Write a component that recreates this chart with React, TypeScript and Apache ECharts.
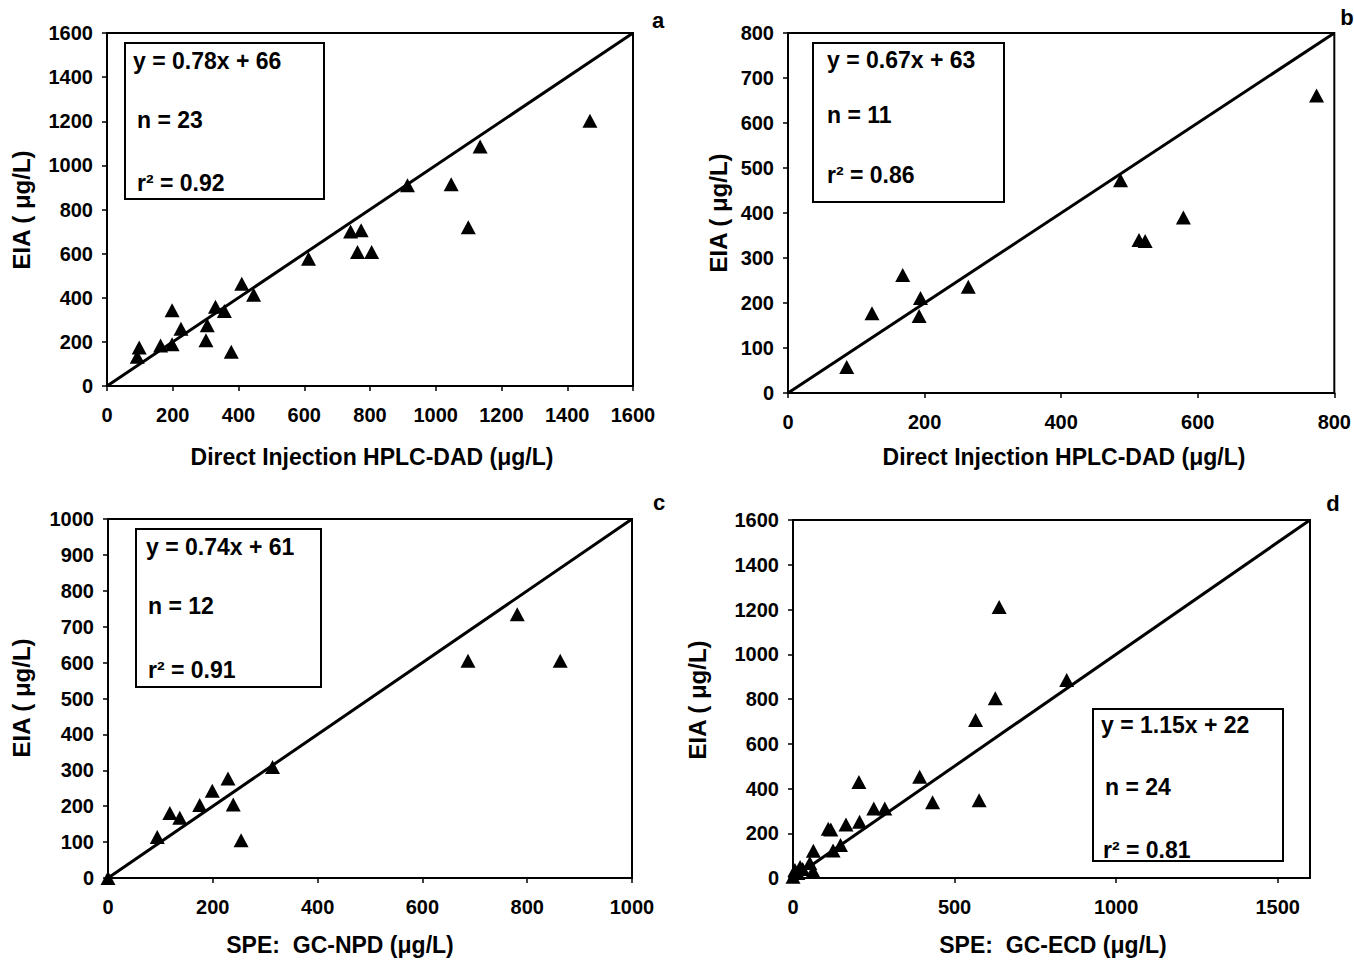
import React, { useEffect, useRef } from "react";
import * as echarts from "echarts";

// Panel a: Direct Injection HPLC-DAD vs EIA
const aX = [98, 92, 163, 198, 198, 225, 301, 305, 330, 357, 378, 410, 446, 613, 741, 773, 762, 805, 914, 1047, 1099, 1135, 1469];
const aY = [174, 133, 184, 189, 343, 260, 207, 275, 359, 340, 155, 463, 414, 577, 700, 706, 607, 607, 910, 915, 720, 1085, 1202];
// Panel b
const bX = [86, 123, 168, 194, 192, 264, 487, 514, 523, 579, 774];
const bY = [58, 177, 262, 211, 171, 236, 473, 340, 338, 390, 661];
// Panel c: SPE GC-NPD
const cX = [0, 94, 118, 137, 175, 199, 229, 239, 254, 314, 687, 781, 863];
const cY = [0, 114, 181, 168, 203, 243, 277, 205, 105, 309, 605, 735, 605];
// Panel d: SPE GC-ECD
const dX = [638, 847, 626, 565, 392, 204, 432, 576, 250, 284, 164, 206, 109, 117, 124, 147, 63, 52, 62, 22, 6, 0, 15, 30];
const dY = [1211, 885, 803, 706, 452, 429, 339, 348, 311, 311, 239, 251, 220, 217, 123, 147, 122, 67, 31, 49, 36, 6, 22, 40];

const axisMax = [1600, 800, 1000, 1600];
const xInterval = [200, 200, 200, 500];
const yInterval = [200, 100, 100, 200];
const xTitles = ["Direct Injection HPLC-DAD (\u03bcg/L)", "Direct Injection HPLC-DAD (\u03bcg/L)", "SPE:  GC-NPD (\u03bcg/L)", "SPE:  GC-ECD (\u03bcg/L)"];
const yTitle = "EIA ( \u03bcg/L)";
const panelLetters = ["a", "b", "c", "d"];
const statLines = [
  ["y = 0.78x + 66", "n = 23", "r\u00b2 = 0.92"],
  ["y = 0.67x + 63", "n = 11", "r\u00b2 = 0.86"],
  ["y = 0.74x + 61", "n = 12", "r\u00b2 = 0.91"],
  ["y = 1.15x + 22", "n = 24", "r\u00b2 = 0.81"],
];

const FONT = '"Liberation Sans", Arial, sans-serif';

export default function App() {
  const ref = useRef<HTMLDivElement>(null);
  useEffect(() => {
    document.body.style.margin = "0";
    const chart = echarts.init(ref.current!, null, { renderer: "svg" });
    const grids = [
      { left: 107, top: 33, width: 526, height: 353 },
      { left: 788, top: 33, width: 547, height: 360 },
      { left: 108, top: 519, width: 524, height: 359 },
      { left: 793, top: 520, width: 517, height: 358 },
    ];
    const xs = [aX, bX, cX, dX];
    const ys = [aY, bY, cY, dY];
    const axisCommon = {
      axisLine: { show: true, lineStyle: { color: "#000", width: 2 } },
      axisTick: { show: true, inside: false, length: 5, lineStyle: { color: "#000", width: 1.5 } },
      splitLine: { show: false },
    };
    const labelStyle = {
      color: "#000",
      fontFamily: FONT,
      fontWeight: "bold" as const,
      fontSize: 20,
      formatter: (v: number) => String(v),
    };
    const xAxes = grids.map((_, i) => ({
      type: "value",
      gridIndex: i,
      min: 0,
      max: axisMax[i],
      interval: xInterval[i],
      ...axisCommon,
      axisLabel: { ...labelStyle, margin: 19, showMaxLabel: i !== 3 },
    }));
    const yAxes = grids.map((_, i) => ({
      type: "value",
      gridIndex: i,
      min: 0,
      max: axisMax[i],
      interval: yInterval[i],
      ...axisCommon,
      axisLabel: { ...labelStyle, margin: 14 },
    }));
    const series: any[] = [];
    grids.forEach((_, i) => {
      series.push({
        type: "line",
        xAxisIndex: i,
        yAxisIndex: i,
        data: [[0, 0], [axisMax[i], axisMax[i]]],
        symbol: "none",
        lineStyle: { color: "#000", width: 3 },
        z: 2,
      });
      series.push({
        type: "scatter",
        xAxisIndex: i,
        yAxisIndex: i,
        data: xs[i].map((x, k) => [x, ys[i][k]]),
        symbol: "triangle",
        symbolSize: [15, 14],
        itemStyle: { color: "#000", opacity: 1 },
        z: 3,
      });
    });

    const boxes = [
      { x: 125, y: 43, w: 199, h: 156, tx: [133, 137, 137], ty: [61, 120, 183] },
      { x: 813, y: 43, w: 191, h: 159, tx: [827, 827, 827], ty: [60, 115, 175] },
      { x: 136, y: 529, w: 185, h: 158, tx: [146, 148, 148], ty: [547, 606, 670] },
      { x: 1093, y: 709, w: 190, h: 152, tx: [1101, 1105, 1103], ty: [725, 787, 850] },
    ];
    const xTitlePos = [[372, 457], [1064, 457], [340, 945], [1053, 945]];
    const yTitlePos = [[21, 210], [718, 213], [21, 698], [697, 700]];
    const letterPos = [[658, 20], [1347, 17], [659, 502], [1333, 503]];

    const graphic: any[] = [];
    boxes.forEach((b, i) => {
      graphic.push({
        type: "rect",
        shape: { x: b.x, y: b.y, width: b.w, height: b.h },
        style: { fill: "#fff", stroke: "#000", lineWidth: 2 },
        z: 10,
      });
      statLines[i].forEach((t, k) => {
        graphic.push({
          type: "text",
          x: b.tx[k],
          y: b.ty[k],
          style: { text: t, font: `bold 23px ${FONT}`, fill: "#000", align: "left", verticalAlign: "middle" },
          z: 11,
        });
      });
    });
    xTitlePos.forEach((p, i) => {
      graphic.push({
        type: "text",
        x: p[0],
        y: p[1],
        style: { text: xTitles[i], font: `bold 23px ${FONT}`, fill: "#000", align: "center", verticalAlign: "middle" },
      });
    });
    yTitlePos.forEach((p) => {
      graphic.push({
        type: "text",
        x: p[0],
        y: p[1],
        rotation: Math.PI / 2,
        style: { text: yTitle, font: `bold 24px ${FONT}`, fill: "#000", align: "center", verticalAlign: "middle" },
      });
    });
    letterPos.forEach((p, i) => {
      graphic.push({
        type: "text",
        x: p[0],
        y: p[1],
        style: { text: panelLetters[i], font: `bold 22px ${FONT}`, fill: "#000", align: "center", verticalAlign: "middle" },
      });
    });

    chart.setOption({
      animation: false,
      backgroundColor: "#fff",
      grid: grids.map((g) => ({ ...g, show: true, borderColor: "#000", borderWidth: 2, backgroundColor: "transparent" })),
      xAxis: xAxes,
      yAxis: yAxes,
      series,
      graphic,
    });
    return () => chart.dispose();
  }, []);
  return <div ref={ref} style={{ width: 1354, height: 960 }} />;
}
